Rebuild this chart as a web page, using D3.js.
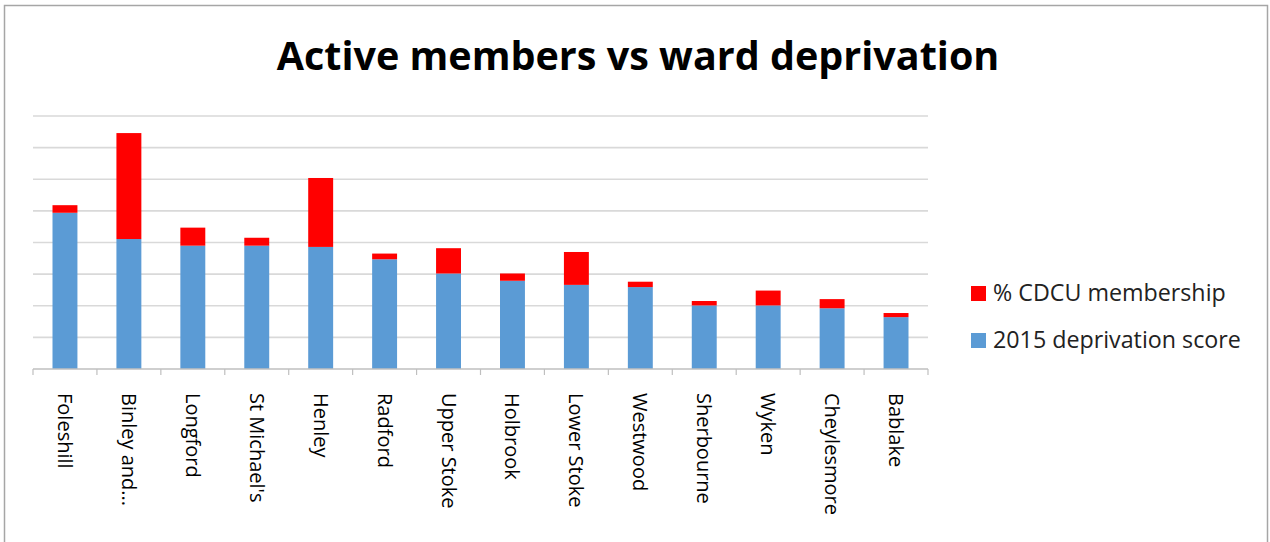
<!DOCTYPE html>
<html>
<head>
<meta charset="utf-8">
<script src="https://cdn.jsdelivr.net/npm/d3@7"></script>
<style>
  body { margin: 0; background: #fff; }
  text { font-family: "Open Sans", sans-serif; }
</style>
</head>
<body>
<div id="chart"></div>
<script>
// wards, sorted by deprivation score
var wards = ["Foleshill", "Binley and...", "Longford", "St Michael's", "Henley", "Radford",
    "Upper Stoke", "Holbrook", "Lower Stoke", "Westwood", "Sherbourne", "Wyken",
    "Cheylesmore", "Bablake"];
var deprivation = [49.4, 41.1, 39.0, 39.0, 38.6, 34.7, 30.2, 27.9, 26.6, 25.9, 20.1, 20.1, 19.2, 16.4];
var membership = [2.4, 33.5, 5.7, 2.5, 21.8, 1.8, 8.0, 2.3, 10.4, 1.7, 1.4, 4.7, 2.9, 1.3];
var gridTicks = [10, 20, 30, 40, 50, 60, 70, 80];
var seriesNames = ["% CDCU membership", "2015 deprivation score"];

var W = 1270, H = 542;
var margin = {top: 116, left: 33, right: 342, bottom: 173};
var width = W - margin.left - margin.right,
    height = H - margin.top - margin.bottom;

var svg = d3.select("#chart").append("svg")
    .attr("width", W)
    .attr("height", H);

// outer frame
svg.append("rect")
    .attr("x", 4.5).attr("y", 5.5)
    .attr("width", 1263).attr("height", 545)
    .attr("fill", "none")
    .attr("stroke", "#a6a6a6")
    .attr("stroke-width", 1.5);

var title = svg.append("text")
    .attr("x", 638).attr("y", 70)
    .attr("text-anchor", "middle")
    .style("font-weight", "bold")
    .style("font-size", "42px")
    .attr("fill", "#000")
    .text("Active members vs ward deprivation");
// squeeze to match the reference width
var tw = title.node().getComputedTextLength();
title.style("font-size", (42 * 723 / tw) + "px");

var g = svg.append("g")
    .attr("transform", "translate(" + margin.left + "," + margin.top + ")");

var x = d3.scaleBand()
    .domain(wards)
    .range([0, width])
    .paddingInner(0.61)
    .paddingOuter(0.305);

var y = d3.scaleLinear()
    .domain([0, 80])
    .range([height, 0]);

// gridlines
g.append("g")
    .selectAll("line")
    .data(gridTicks)
    .join("line")
    .attr("x1", 0).attr("x2", width)
    .attr("y1", d => y(d)).attr("y2", d => y(d))
    .attr("stroke", "#d9d9d9")
    .attr("stroke-width", 1.6);

var data = wards.map((w, i) => ({ward: w, dep: deprivation[i], mem: membership[i]}));

g.append("g")
    .selectAll("rect")
    .data(data)
    .join("rect")
    .attr("x", d => x(d.ward))
    .attr("width", x.bandwidth())
    .attr("y", d => y(d.dep))
    .attr("height", d => y(0) - y(d.dep))
    .attr("fill", "#5b9bd5");

g.append("g")
    .selectAll("rect")
    .data(data)
    .join("rect")
    .attr("x", d => x(d.ward))
    .attr("width", x.bandwidth())
    .attr("y", d => y(d.dep + d.mem))
    .attr("height", d => y(d.dep) - y(d.dep + d.mem))
    .attr("fill", "#ff0000");

// x axis: baseline with ticks between categories
var step = x.step();
var xAxis = g.append("g")
    .attr("transform", "translate(0," + height + ")");
xAxis.append("line")
    .attr("x1", 0).attr("x2", width)
    .attr("stroke", "#bfbfbf").attr("stroke-width", 1.5);
xAxis.selectAll("line.tick")
    .data(d3.range(wards.length + 1))
    .join("line")
    .attr("class", "tick")
    .attr("x1", i => i * step).attr("x2", i => i * step)
    .attr("y1", 0).attr("y2", 6)
    .attr("stroke", "#bfbfbf").attr("stroke-width", 1.2);

xAxis.selectAll("text")
    .data(wards)
    .join("text")
    .attr("transform", d => "translate(" + (x(d) + x.bandwidth() / 2) + ",24) rotate(90)")
    .attr("dy", "0.35em")
    .style("font-size", "20px")
    .attr("fill", "#000")
    .text(d => d);

// legend
var legend = svg.append("g");
var colors = ["#ff0000", "#5b9bd5"];
var legendTexts = [];
seriesNames.forEach(function(name, i) {
    var ly = 293 + i * 47;
    legend.append("rect")
        .attr("x", 971).attr("y", ly - 7)
        .attr("width", 15).attr("height", 15)
        .attr("fill", colors[i]);
    legendTexts.push(legend.append("text")
        .attr("x", 993).attr("y", ly)
        .attr("dy", "0.35em")
        .style("font-size", "19px")
        .attr("fill", "#222")
        .text(name));
});
// size legend text to the reference width of the longer label
var lw = legendTexts[1].node().getComputedTextLength();
legendTexts.forEach(t => t.style("font-size", (19 * 248 / lw) + "px"));
</script>
</body>
</html>
